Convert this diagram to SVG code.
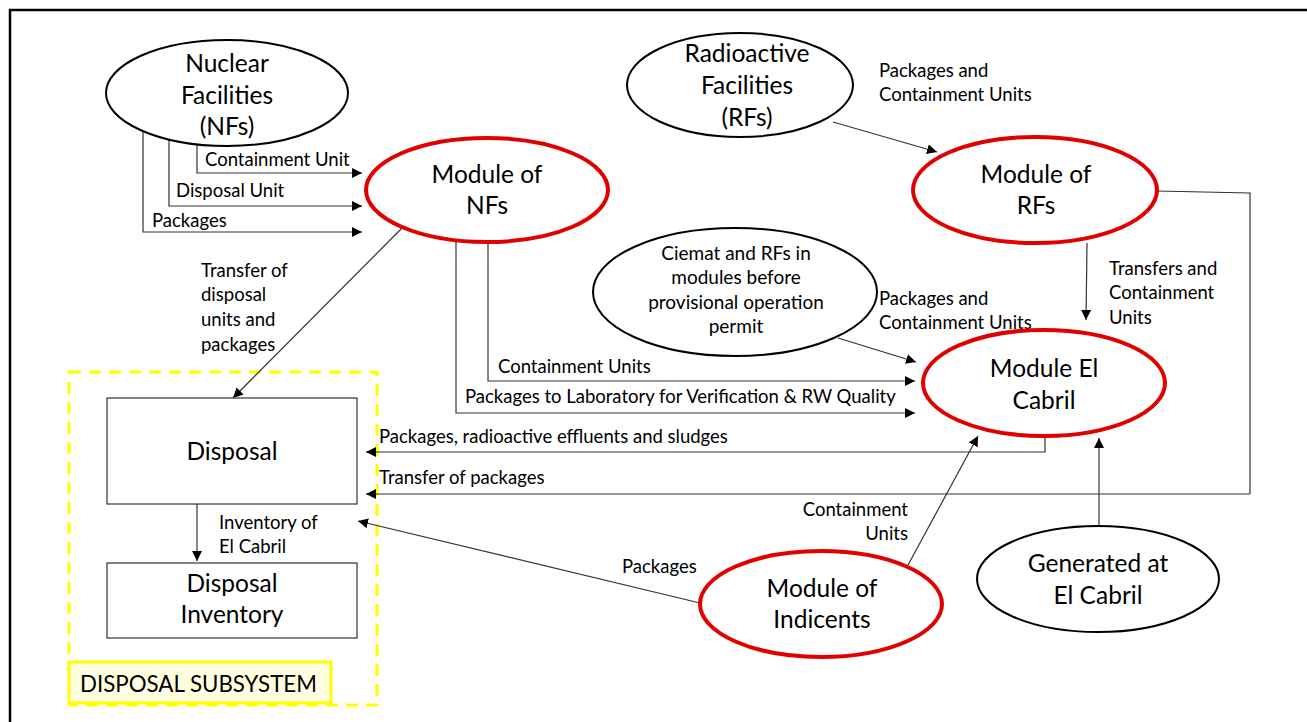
<svg xmlns="http://www.w3.org/2000/svg" width="1307" height="722" viewBox="0 0 1307 722">
<style>
.t{font-family:Lato,"Liberation Sans",sans-serif;fill:#000}
.big{font-size:24.5px;text-anchor:middle}
.mid{font-size:19px;text-anchor:middle}
.lbl{font-size:18.5px}
.eb{fill:#fff;stroke:#000;stroke-width:2}
.er{fill:#fff;stroke:#e00000;stroke-width:4}
.box{fill:#fff;stroke:#333;stroke-width:1.2}
.c{fill:none;stroke:#333;stroke-width:1.2}
.ca{fill:none;stroke:#333;stroke-width:1.2;marker-end:url(#ah)}
</style>
<defs>
<marker id="ah" viewBox="0 0 10 10" refX="10" refY="5" markerWidth="10" markerHeight="10" markerUnits="userSpaceOnUse" orient="auto">
<path d="M0,0 L10,5 L0,10 z" fill="#000"/>
</marker>
</defs>
<rect x="0" y="0" width="1307" height="722" fill="#fff"/>
<path d="M10,722 V10 H1307" fill="none" stroke="#000" stroke-width="2.5"/>

<g id="subsystem">
<rect x="69" y="372" width="308" height="333" fill="none" stroke="#ffff00" stroke-width="3" stroke-dasharray="12,8"/>
</g>

<g id="connectors">
<path class="ca" d="M197,145 V173 H362"/>
<path class="ca" d="M169,140 V206 H362"/>
<path class="ca" d="M143,130 V232 H362"/>
<path class="ca" d="M833,122 L937,152"/>
<path class="ca" d="M1087,243 L1086,320"/>
<path class="c" d="M1157,191 L1250,193 V494"/>
<path class="ca" d="M1250,494 H366"/>
<path class="ca" d="M838,338 L916,362"/>
<path class="ca" d="M488,242 V381 H915"/>
<path class="ca" d="M456,242 V413 H915"/>
<path class="ca" d="M1045,437 V452 H366"/>
<path class="ca" d="M1099,526 V438"/>
<path class="ca" d="M908,565 L978,436"/>
<path class="ca" d="M700,603 L358,521"/>
<path class="ca" d="M402,228 L233,398"/>
<path class="ca" d="M197,504 V561"/>
</g>

<g id="labels">
<text class="t lbl" x="205" y="166">Containment Unit</text>
<text class="t lbl" x="176" y="197">Disposal Unit</text>
<text class="t lbl" x="152" y="227">Packages</text>
<text class="t lbl" x="879" y="77">Packages and</text>
<text class="t lbl" x="879" y="101">Containment Units</text>
<text class="t lbl" x="1109" y="275">Transfers and</text>
<text class="t lbl" x="1109" y="299">Containment</text>
<text class="t lbl" x="1109" y="324">Units</text>
<text class="t lbl" x="879" y="305">Packages and</text>
<text class="t lbl" x="879" y="329">Containment Units</text>
<text class="t lbl" x="498" y="373">Containment Units</text>
<text class="t lbl" x="465" y="403">Packages to Laboratory for Verification &amp; RW Quality</text>
<text class="t lbl" x="379" y="443">Packages, radioactive effluents and sludges</text>
<text class="t lbl" x="379" y="484">Transfer of packages</text>
<text class="t lbl" x="201" y="277">Transfer of</text>
<text class="t lbl" x="201" y="301">disposal</text>
<text class="t lbl" x="201" y="326">units and</text>
<text class="t lbl" x="201" y="351">packages</text>
<text class="t lbl" x="219" y="529">Inventory of</text>
<text class="t lbl" x="219" y="553">El Cabril</text>
<text class="t lbl" x="622" y="573">Packages</text>
<text class="t lbl" x="908" y="516" text-anchor="end">Containment</text>
<text class="t lbl" x="908" y="540" text-anchor="end">Units</text>
</g>

<g id="nuclear-facilities">
<ellipse class="eb" cx="227" cy="93" rx="121" ry="53"/>
<text class="t big" x="227" y="72">Nuclear</text>
<text class="t big" x="227" y="104">Facilities</text>
<text class="t big" x="227" y="135">(NFs)</text>
</g>

<g id="module-nfs">
<ellipse class="er" cx="487" cy="190" rx="121" ry="52"/>
<text class="t big" x="487" y="183">Module of</text>
<text class="t big" x="487" y="214">NFs</text>
</g>

<g id="radioactive-facilities">
<ellipse class="eb" cx="740" cy="85" rx="113" ry="52"/>
<text class="t big" x="747" y="62">Radioactive</text>
<text class="t big" x="747" y="94">Facilities</text>
<text class="t big" x="747" y="126">(RFs)</text>
</g>

<g id="module-rfs">
<ellipse class="er" cx="1035" cy="190" rx="122" ry="53"/>
<text class="t big" x="1036" y="183">Module of</text>
<text class="t big" x="1036" y="214">RFs</text>
</g>

<g id="ciemat">
<ellipse class="eb" cx="735" cy="292" rx="142" ry="64"/>
<text class="t mid" x="736" y="260">Ciemat and RFs in</text>
<text class="t mid" x="736" y="284">modules before</text>
<text class="t mid" x="736" y="309">provisional operation</text>
<text class="t mid" x="736" y="333">permit</text>
</g>

<g id="module-el-cabril">
<ellipse class="er" cx="1044" cy="383" rx="121" ry="53"/>
<text class="t big" x="1044" y="377">Module El</text>
<text class="t big" x="1044" y="409">Cabril</text>
</g>

<g id="generated-el-cabril">
<ellipse class="eb" cx="1098" cy="579" rx="121" ry="53"/>
<text class="t big" x="1098" y="572">Generated at</text>
<text class="t big" x="1098" y="604">El Cabril</text>
</g>

<g id="module-indicents">
<ellipse class="er" cx="821" cy="604" rx="121" ry="53"/>
<text class="t big" x="822" y="597">Module of</text>
<text class="t big" x="822" y="628">Indicents</text>
</g>

<g id="disposal">
<rect class="box" x="107" y="398" width="250" height="106"/>
<text class="t big" x="232" y="460">Disposal</text>
</g>

<g id="disposal-inventory">
<rect class="box" x="107" y="563" width="250" height="75"/>
<text class="t big" x="232" y="592">Disposal</text>
<text class="t big" x="232" y="623">Inventory</text>
</g>

<g id="subsystem-label">
<rect x="69" y="662" width="262" height="41" fill="#ffffe0" stroke="#ffff00" stroke-width="3"/>
<text class="t" x="80" y="692" font-size="22.3">DISPOSAL SUBSYSTEM</text>
</g>
</svg>
